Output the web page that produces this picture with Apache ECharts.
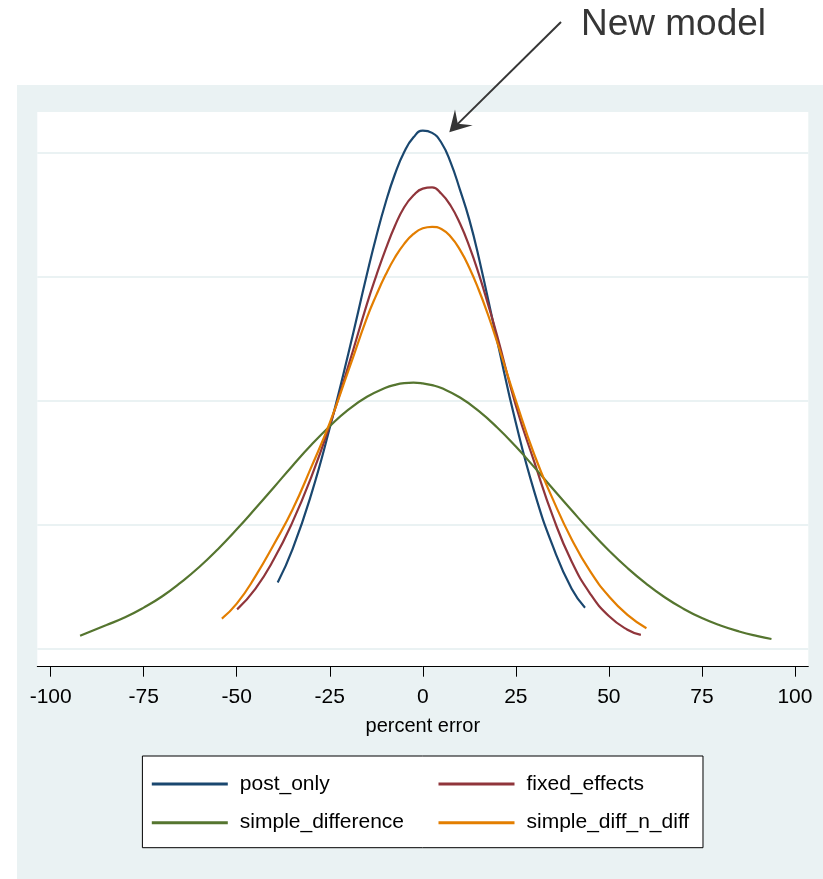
<!DOCTYPE html>
<html><head><meta charset="utf-8">
<script src="https://cdn.jsdelivr.net/npm/echarts@6/dist/echarts.min.js"></script>
<style>html,body{margin:0;padding:0;background:#fff;}#c{width:823px;height:879px;}</style>
</head><body><div id="c"></div>
<script>
// ---- data ----
const xTicks = [-100, -75, -50, -25, 0, 25, 50, 75, 100];
const gridValues = [0, 0.005, 0.01, 0.015, 0.02];
const seriesNames = ['post_only', 'fixed_effects', 'simple_difference', 'simple_diff_n_diff'];

const postOnlyX = [-39, -35, -30, -25, -20, -15, -12.5, -10, -7.5, -5, -2.5, 0, 2.5, 5, 7.5, 10, 12.5, 15, 20, 25, 30, 35, 40, 43.6];
const postOnlyY = [0.00265, 0.0040, 0.0062, 0.0089, 0.0119, 0.0151, 0.01662, 0.01798, 0.01913, 0.02003, 0.02062, 0.02089, 0.0208, 0.0204, 0.0196, 0.0185, 0.0173, 0.0158, 0.0124, 0.0091, 0.0063, 0.0041, 0.0024, 0.00164];

const fixedEffectsX = [-49.9, -45, -40, -35, -30, -25, -20, -15, -12.5, -10, -7.5, -5, -2.5, 0, 2.5, 5, 7.5, 10, 12.5, 15, 17.5, 20, 25, 30, 35, 40, 45, 50, 55, 58.6];
const fixedEffectsY = [0.00157, 0.0024, 0.0036, 0.0051, 0.0069, 0.0090, 0.0114, 0.0139, 0.01504, 0.0161, 0.01704, 0.0178, 0.01828, 0.01855, 0.0186, 0.01834, 0.01786, 0.01714, 0.01622, 0.01513, 0.0139, 0.0126, 0.0098, 0.0075, 0.0053, 0.0035, 0.0022, 0.0013, 0.00075, 0.00054];

const simpleDiffX = [-92.1, -85, -80, -75, -70, -65, -60, -55, -50, -45, -40, -35, -30, -25, -20, -15, -10, -7.5, -5, -2.5, 0, 2.5, 5, 10, 15, 20, 25, 30, 35, 40, 45, 50, 55, 60, 65, 70, 75, 80, 85, 90, 93.7];
const simpleDiffY = [0.00051, 0.00094, 0.00125, 0.00164, 0.0021, 0.00266, 0.00329, 0.00401, 0.0048, 0.00564, 0.0065, 0.00737, 0.0082, 0.00896, 0.00963, 0.01015, 0.01051, 0.01063, 0.0107, 0.01072, 0.01069, 0.01062, 0.0105, 0.01012, 0.00958, 0.00891, 0.00814, 0.0073, 0.00643, 0.00557, 0.00473, 0.00395, 0.00324, 0.00261, 0.00206, 0.0016, 0.00122, 0.00092, 0.00068, 0.00049, 0.000375];

const diffNDiffX = [-54, -50, -45, -40, -35, -30, -25, -20, -15, -12.5, -10, -7.5, -5, -2.5, 0, 2.5, 5, 7.5, 10, 12.5, 15, 17.5, 20, 25, 30, 35, 40, 45, 50, 55, 60.1];
const diffNDiffY = [0.0012, 0.0018, 0.0029, 0.0042, 0.0056, 0.0073, 0.0091, 0.0112, 0.01334, 0.01425, 0.01507, 0.01577, 0.01632, 0.01672, 0.01695, 0.01701, 0.01692, 0.01661, 0.01608, 0.01536, 0.01448, 0.01347, 0.01235, 0.0100, 0.0078, 0.0060, 0.0044, 0.0031, 0.0021, 0.00135, 0.00081];

// ---- chart ----
const colors = ['#1a476f', '#90353b', '#55752f', '#e37e00'];
const FONT = "'Liberation Sans', Arial, Helvetica, sans-serif";
function pairs(xs, ys) { return xs.map((x, i) => [x, ys[i]]); }
const allData = [pairs(postOnlyX, postOnlyY), pairs(fixedEffectsX, fixedEffectsY), pairs(simpleDiffX, simpleDiffY), pairs(diffNDiffX, diffNDiffY)];

const chart = echarts.init(document.getElementById('c'), null, {renderer: 'canvas'});
const option = {
  animation: false,
  backgroundColor: '#ffffff',
  graphic: [
    {type: 'rect', z: -10, silent: true, shape: {x: 17, y: 85, width: 806, height: 794}, style: {fill: '#eaf2f3'}},
    {type: 'text', silent: true, style: {text: 'New model', x: 581, y: 25, font: '37px "Liberation Sans", Arial, sans-serif', fill: '#363636', align: 'left', verticalAlign: 'middle'}},
    {type: 'line', silent: true, shape: {x1: 561, y1: 22, x2: 455, y2: 126.6}, style: {stroke: '#363636', lineWidth: 2}},
    {type: 'polygon', silent: true, shape: {points: [[449.3, 132.3], [455, 109.5], [457.8, 123.8], [472.7, 125.3]]}, style: {fill: '#363636'}}
  ],
  grid: {left: 37.3, right: 14.7, top: 112, bottom: 212.3, show: true, backgroundColor: '#ffffff', borderWidth: 0, containLabel: false, outerBoundsMode: 'none'},
  xAxis: {
    type: 'value', min: -103.6, max: 103.6,
    axisLine: {show: true, onZero: false, lineStyle: {color: '#000', width: 1}},
    axisTick: {show: true, length: 10, customValues: xTicks, lineStyle: {color: '#000', width: 1}},
    axisLabel: {customValues: xTicks, fontFamily: FONT, fontSize: 21, color: '#000', margin: 20},
    splitLine: {show: false},
    name: 'percent error', nameLocation: 'middle', nameGap: 50,
    nameTextStyle: {fontFamily: FONT, fontSize: 20, color: '#000'}
  },
  yAxis: {
    type: 'value', min: -0.000743, max: 0.021642,
    axisLine: {show: false},
    axisTick: {show: false, customValues: gridValues},
    axisLabel: {show: false},
    splitLine: {show: true, lineStyle: {color: '#eaf2f3', width: 2}}
  },
  legend: {
    left: 142.4, top: 756, width: 560,
    orient: 'horizontal', selectedMode: false,
    padding: [14, 9.5, 11, 9.4],
    backgroundColor: '#ffffff', borderColor: '#000', borderWidth: 1,
    icon: 'rect', itemWidth: 76, itemHeight: 3, itemGap: 10.7,
    textStyle: {fontFamily: FONT, fontSize: 21, color: '#000', lineHeight: 28, padding: [0, 0, 0, 7]},
    data: [
      {name: seriesNames[0], textStyle: {width: 188}},
      {name: seriesNames[1], textStyle: {width: 167}},
      {name: seriesNames[2], textStyle: {width: 188}},
      {name: seriesNames[3], textStyle: {width: 167}}
    ]
  },
  series: seriesNames.map((n, i) => ({
    type: 'line', name: n, data: allData[i],
    showSymbol: false, symbol: 'none', smooth: 0.5, silent: true,
    lineStyle: {color: colors[i], width: 2.2}, itemStyle: {color: colors[i]},
    emphasis: {disabled: true}, z: 3
  }))
};
chart.setOption(option);
</script>
</body></html>
